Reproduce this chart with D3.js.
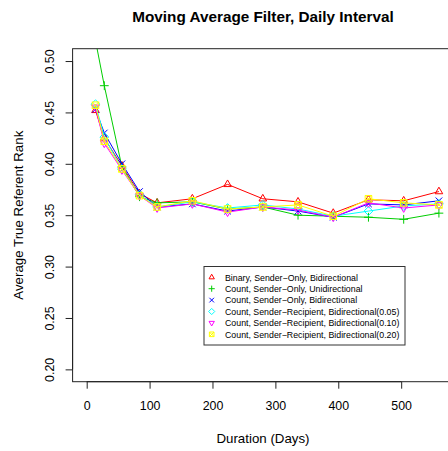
<!DOCTYPE html>
<html>
<head>
<meta charset="utf-8">
<script src="https://cdn.jsdelivr.net/npm/d3@7"></script>
<style>
  body { margin: 0; background: #fff; }
  svg { display: block; font-family: "Liberation Sans", Arial, Helvetica, sans-serif; }
</style>
</head>
<body>
<div id="chart"></div>
<script>
const days = [14, 28, 56, 84, 112, 168, 224, 280, 336, 392, 448, 504, 560];

const binarySenderBi = [0.452, 0.425, 0.398, 0.371, 0.362, 0.366, 0.380, 0.366, 0.363, 0.352, 0.365, 0.364, 0.373];
const countSenderUni = [0.520, 0.476, 0.397, 0.368, 0.362, 0.363, 0.356, 0.358, 0.350, 0.349, 0.348, 0.346, 0.352];
const countSenderBi  = [0.453, 0.430, 0.400, 0.373, 0.358, 0.361, 0.354, 0.358, 0.354, 0.348, 0.361, 0.360, 0.364];
const countSR05      = [0.458, 0.426, 0.395, 0.370, 0.358, 0.363, 0.357, 0.360, 0.356, 0.349, 0.354, 0.359, 0.361];
const countSR10      = [0.455, 0.420, 0.394, 0.369, 0.357, 0.361, 0.353, 0.358, 0.355, 0.348, 0.362, 0.357, 0.360];
const countSR20      = [0.457, 0.422, 0.395, 0.369, 0.358, 0.364, 0.356, 0.358, 0.360, 0.349, 0.366, 0.362, 0.360];

const seriesNames = [
  "Binary, Sender\u2212Only, Bidirectional",
  "Count, Sender\u2212Only, Unidirectional",
  "Count, Sender\u2212Only, Bidirectional",
  "Count, Sender\u2212Recipient, Bidirectional(0.05)",
  "Count, Sender\u2212Recipient, Bidirectional(0.10)",
  "Count, Sender\u2212Recipient, Bidirectional(0.20)"
];
const seriesValues = [binarySenderBi, countSenderUni, countSenderBi, countSR05, countSR10, countSR20];
const seriesColors = ["#FF0000", "#00CD00", "#0000FF", "#00FFFF", "#FF00FF", "#FFFF00"];
const seriesPch = [2, 3, 4, 5, 6, 7];

const xTicks = [0, 100, 200, 300, 400, 500];
const yTicks = [0.20, 0.25, 0.30, 0.35, 0.40, 0.45, 0.50];

const W = 448, H = 451;
const svg = d3.select("#chart").append("svg")
    .attr("width", W)
    .attr("height", H);

const x = d3.scaleLinear().domain([-22.4, 582.4]).range([72.6, 453]);
const y = d3.scaleLinear().domain([0.188, 0.512]).range([381.7, 48.7]);

// R-like point symbols
function symbol(pch, s) {
    const r = 4.4 * s;
    const h = 3.3 * s;
    switch (pch) {
        case 2: return `M0,${-r}L${r*0.866},${r*0.5}L${-r*0.866},${r*0.5}Z`;
        case 3: return `M${-r},0L${r},0M0,${-r}L0,${r}`;
        case 4: return `M${-h},${-h}L${h},${h}M${-h},${h}L${h},${-h}`;
        case 5: return `M0,${-r}L${r},0L0,${r}L${-r},0Z`;
        case 6: return `M0,${r}L${r*0.866},${-r*0.5}L${-r*0.866},${-r*0.5}Z`;
        case 7: return `M${-h},${-h}L${h},${-h}L${h},${h}L${-h},${h}Z` +
                       `M${-h},${-h}L${h},${h}M${-h},${h}L${h},${-h}`;
    }
}

svg.append("defs").append("clipPath").attr("id", "plotclip")
  .append("rect")
    .attr("x", x.range()[0]).attr("y", y.range()[1])
    .attr("width", x.range()[1] - x.range()[0])
    .attr("height", y.range()[0] - y.range()[1]);

const plot = svg.append("g").attr("clip-path", "url(#plotclip)");

const line = d3.line()
    .x((d, i) => x(days[i]))
    .y(d => y(d));

seriesValues.forEach(function(vals, k) {
    plot.append("path")
        .attr("d", line(vals))
        .attr("fill", "none")
        .attr("stroke", seriesColors[k])
        .attr("stroke-width", 1);
    plot.selectAll(null)
        .data(vals)
        .enter().append("path")
        .attr("transform", (d, i) => "translate(" + x(days[i]) + "," + y(d) + ")")
        .attr("d", symbol(seriesPch[k], 1))
        .attr("fill", "none")
        .attr("stroke", seriesColors[k])
        .attr("stroke-width", 1);
});

// box
svg.append("rect")
    .attr("x", x.range()[0]).attr("y", y.range()[1])
    .attr("width", x.range()[1] - x.range()[0])
    .attr("height", y.range()[0] - y.range()[1])
    .attr("fill", "none")
    .attr("stroke", "#222")
    .attr("stroke-width", 1);

// x axis
const xAxis = d3.axisBottom(x).tickValues(xTicks).tickSize(7).tickPadding(13)
    .tickFormat(d3.format("d"));
const gx = svg.append("g")
    .attr("transform", "translate(0," + y.range()[0] + ")")
    .call(xAxis);
gx.select(".domain").attr("d", `M${x(0)},0H${x(500)}`).attr("stroke", "#222");
gx.selectAll(".tick line").attr("stroke", "#222");
gx.selectAll(".tick text").attr("font-size", 12.4).attr("fill", "#000")
    .attr("font-family", "Liberation Sans, Arial, sans-serif");

// y axis
const yAxis = d3.axisLeft(y).tickValues(yTicks).tickSize(7)
    .tickFormat(d3.format(".2f"));
const gy = svg.append("g")
    .attr("transform", "translate(" + x.range()[0] + ",0)")
    .call(yAxis);
gy.select(".domain").attr("d", `M0,${y(0.2)}V${y(0.5)}`).attr("stroke", "#222");
gy.selectAll(".tick line").attr("stroke", "#222");
gy.selectAll(".tick text")
    .attr("x", null).attr("dy", null)
    .attr("transform", "translate(-18.6,0) rotate(-90)")
    .attr("text-anchor", "middle")
    .attr("font-size", 12.4).attr("fill", "#000")
    .attr("font-family", "Liberation Sans, Arial, sans-serif");

// titles
svg.append("text")
    .attr("x", 263).attr("y", 21.5)
    .attr("text-anchor", "middle")
    .attr("font-weight", "bold")
    .style("font-size", "15.3px")
    .text("Moving Average Filter, Daily Interval");

svg.append("text")
    .attr("x", 263).attr("y", 442.5)
    .attr("text-anchor", "middle")
    .style("font-size", "13.3px")
    .text("Duration (Days)");

svg.append("text")
    .attr("transform", "translate(22.5," + ((y.range()[0] + y.range()[1]) / 2) + ") rotate(-90)")
    .attr("text-anchor", "middle")
    .style("font-size", "13.3px")
    .text("Average True Referent Rank");

// legend
const legend = svg.append("g");
legend.append("rect")
    .attr("x", 204).attr("y", 266.5)
    .attr("width", 201).attr("height", 78.5)
    .attr("fill", "#fff")
    .attr("stroke", "#333")
    .attr("stroke-width", 1);

const rows = legend.selectAll(".row")
    .data(seriesNames)
    .enter().append("g")
    .attr("transform", (d, i) => "translate(211.7," + (277.3 + i * 11.4) + ")");

rows.append("path")
    .attr("d", (d, i) => symbol(seriesPch[i], 0.7))
    .attr("fill", "none")
    .attr("stroke", (d, i) => seriesColors[i])
    .attr("stroke-width", 1);

rows.append("text")
    .attr("x", 13.3)
    .attr("y", 3.2)
    .style("font-size", "8.8px")
    .text(d => d);
</script>
</body>
</html>
